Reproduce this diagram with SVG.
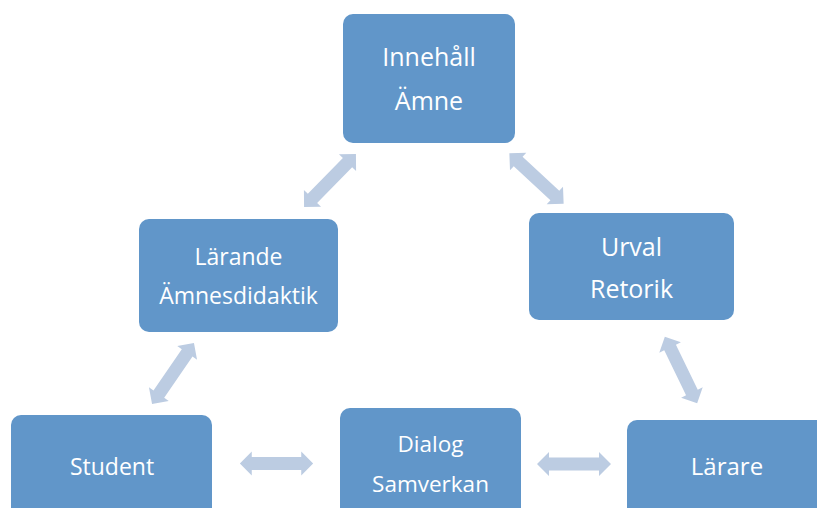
<svg xmlns="http://www.w3.org/2000/svg" width="817" height="508" viewBox="0 0 817 508">
<style>
.box{fill:#6196C9;}
.t{fill:#ffffff;font-family:"Open Sans","Liberation Sans",sans-serif;text-anchor:middle;}
.arr{fill:#BCCCE2;}
</style>
<defs>
<path id="dbl" d="M-37,0 L-25,-12 L-25,-6.5 L25,-6.5 L25,-12 L37,0 L25,12 L25,6.5 L-25,6.5 L-25,12 Z"/>
</defs>
<rect width="817" height="508" fill="#ffffff"/>
<g id="connectors" class="arr">
<use href="#dbl" transform="translate(330,180.5) rotate(-45.5)"/>
<use href="#dbl" transform="translate(536.5,178.5) rotate(42.8)"/>
<use href="#dbl" transform="translate(173,373.5) rotate(-55.5)"/>
<use href="#dbl" transform="translate(681,370) rotate(64.1)"/>
<use href="#dbl" transform="translate(276.5,463.5) scale(0.99,1)"/>
<use href="#dbl" transform="translate(574,464)"/>
</g>
<g id="innehall">
<rect class="box" x="343" y="14" width="172" height="129" rx="10"/>
<text class="t" x="429" y="66" font-size="25">Innehåll</text>
<text class="t" x="429" y="110" font-size="25">Ämne</text>
</g>
<g id="larande">
<rect class="box" x="139" y="219" width="199" height="113" rx="10"/>
<text class="t" x="238.5" y="265" font-size="23">Lärande</text>
<text class="t" x="238.5" y="304" font-size="23">Ämnesdidaktik</text>
</g>
<g id="urval">
<rect class="box" x="529" y="213" width="205" height="107" rx="10"/>
<text class="t" x="631.5" y="256" font-size="25">Urval</text>
<text class="t" x="631.5" y="298" font-size="25">Retorik</text>
</g>
<g id="student">
<rect class="box" x="11" y="415" width="201" height="110" rx="10"/>
<text class="t" x="112" y="475" font-size="23">Student</text>
</g>
<g id="dialog">
<rect class="box" x="340" y="408" width="181" height="120" rx="10"/>
<text class="t" x="430.5" y="452" font-size="22.5">Dialog</text>
<text class="t" x="430.5" y="492" font-size="22.5">Samverkan</text>
</g>
<g id="larare">
<rect class="box" x="627" y="420" width="200" height="110" rx="10"/>
<text class="t" x="727" y="475" font-size="24">Lärare</text>
</g>
</svg>
